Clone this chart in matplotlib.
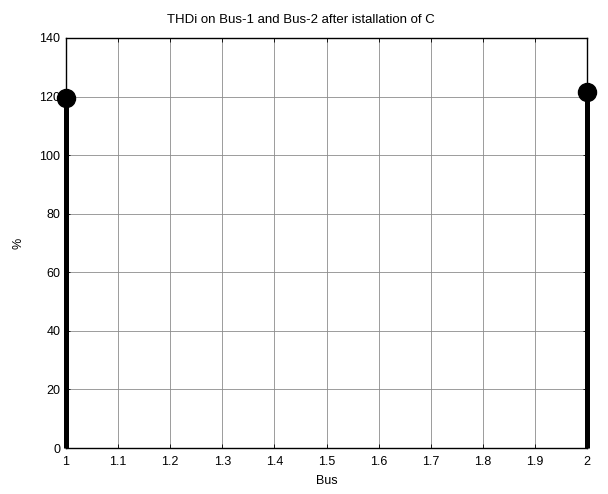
import matplotlib
matplotlib.use('Agg')
import matplotlib.pyplot as plt

plt.rcParams['font.family'] = ['Liberation Sans', 'DejaVu Sans']
plt.rcParams['font.size'] = 9

# datos
bus = [1, 2]
thdi = [119.5, 121.5]
xticks = [1, 1.1, 1.2, 1.3, 1.4, 1.5, 1.6, 1.7, 1.8, 1.9, 2]
yticks = [0, 20, 40, 60, 80, 100, 120, 140]

fig = plt.figure(figsize=(6.08, 4.94), dpi=100)
ax = fig.add_axes([0.1086, 0.0931, 0.857, 0.830])

markerline, stemlines, baseline = ax.stem(bus, thdi, linefmt='k-', markerfmt='ko', basefmt=' ')
plt.setp(stemlines, linewidth=3.6)
plt.setp(markerline, markersize=13)
stemlines.set_clip_on(False)
markerline.set_clip_on(False)

ax.set_xlim(1, 2)
ax.set_ylim(0, 140)
ax.set_xticks(xticks)
ax.set_xticklabels(['1', '1.1', '1.2', '1.3', '1.4', '1.5', '1.6', '1.7', '1.8', '1.9', '2'])
ax.set_yticks(yticks)
ax.grid(True, color='#8c8c8c', linewidth=0.6)
ax.set_axisbelow(True)
ax.tick_params(direction='in', length=3, width=0.6, top=True, right=True, pad=4)
ax.tick_params(axis='x', pad=6)
for s in ax.spines.values():
    s.set_linewidth(1.0)

ax.set_title('THDi on Bus-1 and Bus-2 after istallation of C', fontsize=9.5, pad=11, x=0.45)
ax.set_xlabel('Bus', labelpad=5)
ax.set_ylabel('%', labelpad=11)

fig.savefig('out.png', dpi=100)
plt.close()
